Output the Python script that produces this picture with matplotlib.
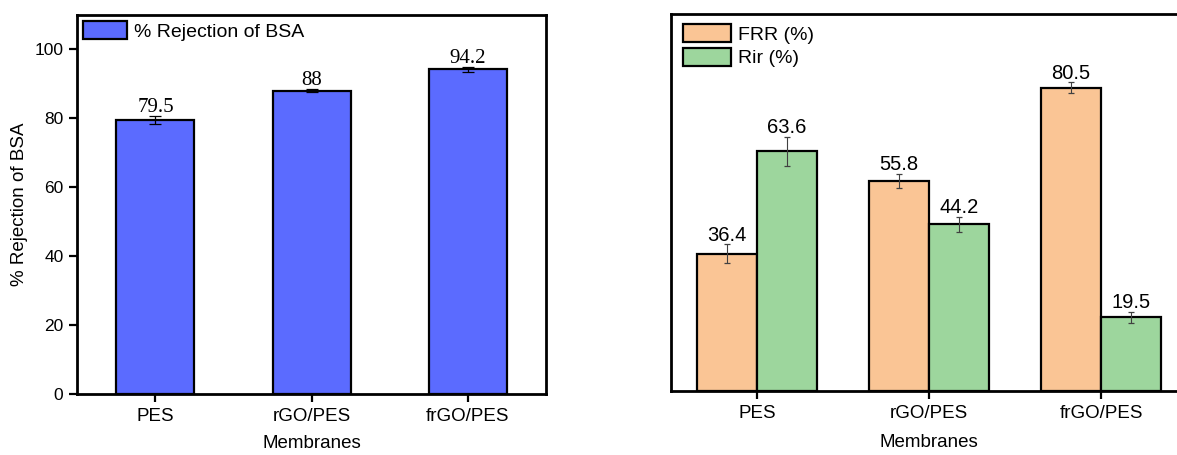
import numpy as np
import matplotlib
matplotlib.use('Agg')
import matplotlib.pyplot as plt

plt.rcParams['font.family'] = ['Liberation Sans', 'DejaVu Sans']

# membranes on both panels
membranes = ['PES', 'rGO/PES', 'frGO/PES']

# BSA rejection (left panel)
rejection = [79.5, 88, 94.2]
rejection_err = [1.2, 0.5, 0.7]

# flux recovery / irreversible fouling ratios (right panel)
frr = [36.4, 55.8, 80.5]
frr_err = [2.5, 1.9, 1.4]
rir = [63.6, 44.2, 19.5]
rir_err = [3.9, 2.0, 1.5]

BLUE = '#5b6bff'
ORANGE = '#fac595'
GREEN = '#9dd69d'

fig = plt.figure(figsize=(11.77, 4.55), dpi=100)

def style_frame(ax):
    for sp in ax.spines.values():
        sp.set_linewidth(2.0)
    ax.tick_params(axis='both', direction='out', length=5.5, width=1.6, pad=4.5)
    ax.tick_params(axis='x', labelsize=13.5)

# ---- left: rejection of BSA ----
ax1 = fig.add_axes([0.0657, 0.1347, 0.3982, 0.8323])
x = np.arange(len(membranes))
ax1.bar(x, rejection, width=0.5, color=BLUE, edgecolor='black', linewidth=1.6,
        label='% Rejection of BSA', zorder=2)
ax1.errorbar(x, rejection, yerr=rejection_err, fmt='none', ecolor='black',
             elinewidth=0.9, capsize=4, capthick=0.9, zorder=3)
for xi, v, e in zip(x, rejection, rejection_err):
    ax1.annotate('{:g}'.format(v), (xi, v + e), xytext=(0, 3), textcoords='offset points',
                 ha='center', va='baseline', fontsize=15, family='Liberation Serif')
ax1.set_xlim(-0.5, 2.5)
ax1.set_ylim(0, 110)
ax1.set_yticks([0, 20, 40, 60, 80, 100])
ax1.set_xticks(x)
ax1.set_xticklabels(membranes)
style_frame(ax1)
ax1.tick_params(axis='y', labelsize=12.5)
ax1.set_ylabel('% Rejection of BSA', fontsize=13.5)
ax1.yaxis.set_label_coords(-0.105, 0.5)
ax1.set_xlabel('Membranes', fontsize=13.5)
ax1.xaxis.set_label_coords(0.5, -0.11)
ax1.legend(loc='upper left', bbox_to_anchor=(0.012, 0.985), frameon=False, fontsize=14,
           handlelength=2.25, handleheight=1.1, handletextpad=0.38,
           borderaxespad=0, borderpad=0)

# ---- right: FRR and Rir ----
ax2 = fig.add_axes([0.5701, 0.1413, 0.4384, 0.8273])
w = 0.35
ax2.bar(x - w / 2, frr, width=w, color=ORANGE, edgecolor='black', linewidth=1.6,
        label='FRR (%)', zorder=2)
ax2.bar(x + w / 2, rir, width=w, color=GREEN, edgecolor='black', linewidth=1.6,
        label='Rir (%)', zorder=2)
ax2.errorbar(x - w / 2, frr, yerr=frr_err, fmt='none', ecolor='0.25',
             elinewidth=0.8, capsize=2.5, capthick=0.9, zorder=3)
ax2.errorbar(x + w / 2, rir, yerr=rir_err, fmt='none', ecolor='0.25',
             elinewidth=0.8, capsize=2.5, capthick=0.9, zorder=3)
for xs, vals, errs in [(x - w / 2, frr, frr_err), (x + w / 2, rir, rir_err)]:
    for xi, v, e in zip(xs, vals, errs):
        ax2.annotate('{:g}'.format(v), (xi, v + e), xytext=(0, 2.5), textcoords='offset points',
                     ha='center', va='baseline', fontsize=14.5)
ax2.set_xlim(-0.5, 2.5)
ax2.set_ylim(0, 100)
ax2.set_xticks(x)
ax2.set_xticklabels(membranes)
ax2.set_yticks([])
style_frame(ax2)
ax2.set_xlabel('Membranes', fontsize=13.5)
ax2.xaxis.set_label_coords(0.5, -0.115)
ax2.legend(loc='upper left', bbox_to_anchor=(0.023, 0.975), frameon=False, fontsize=14,
           handlelength=2.5, handleheight=1.1, handletextpad=0.34, labelspacing=0.2,
           borderaxespad=0, borderpad=0)

fig.savefig('out.png', dpi=100)
